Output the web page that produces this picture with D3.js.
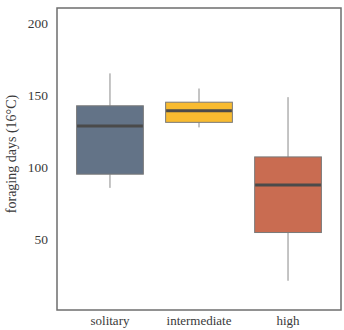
<!DOCTYPE html>
<html>
<head>
<meta charset="utf-8">
<script src="https://cdn.jsdelivr.net/npm/d3@7"></script>
<style>
  body { margin: 0; background: #fff; }
  svg text { font-family: "Liberation Serif", "DejaVu Serif", serif; fill: #3a3a3a; }
</style>
</head>
<body>
<script>
// groups and five-number summaries
const groups = ["solitary", "intermediate", "high"];
const whiskerLow = [85.5, 127.5, 21];
const boxLow = [95, 131, 54.5];
const medians = [128.5, 139, 87.5];
const boxHigh = [142.5, 145, 107];
const whiskerHigh = [165, 154.5, 148.5];
const colors = ["#637387", "#f8bb30", "#c96c51"];
const yTicks = [50, 100, 150, 200];

const width = 344, height = 330;
const margin = { top: 8, right: 3, bottom: 20, left: 57 };
const serif = '"Liberation Serif", serif';

const svg = d3.select("body").append("svg")
  .attr("width", width)
  .attr("height", height);

const x = d3.scaleBand()
  .domain(groups)
  .range([margin.left, width - margin.right])
  .paddingInner(0.25)
  .paddingOuter(0.22);

const y = d3.scaleLinear()
  .domain([0.7, 210.4])
  .range([height - margin.bottom, margin.top]);

// y tick labels
svg.append("g")
  .attr("transform", `translate(${margin.left},0)`)
  .call(d3.axisLeft(y).tickValues(yTicks).tickSize(0).tickPadding(9))
  .attr("font-family", serif)
  .attr("font-size", 13.5)
  .call(g => g.select(".domain").remove());

// x labels
svg.append("g")
  .attr("transform", `translate(0,${height - margin.bottom})`)
  .call(d3.axisBottom(x).tickSize(0).tickPadding(6))
  .attr("font-family", serif)
  .attr("font-size", 13)
  .call(g => g.select(".domain").remove());

svg.append("text")
  .attr("transform", `translate(16,154) rotate(-90)`)
  .attr("text-anchor", "middle")
  .attr("font-size", 14)
  .text("foraging days (16°C)");

const box = svg.append("g");
groups.forEach((gname, i) => {
  const cx = x(gname) + x.bandwidth() / 2;
  box.append("line")
    .attr("x1", cx).attr("x2", cx)
    .attr("y1", y(whiskerHigh[i])).attr("y2", y(boxHigh[i]))
    .attr("stroke", "#8a8a8a").attr("stroke-width", 1);
  box.append("line")
    .attr("x1", cx).attr("x2", cx)
    .attr("y1", y(boxLow[i])).attr("y2", y(whiskerLow[i]))
    .attr("stroke", "#8a8a8a").attr("stroke-width", 1);
  box.append("rect")
    .attr("x", x(gname))
    .attr("width", x.bandwidth())
    .attr("y", y(boxHigh[i]))
    .attr("height", y(boxLow[i]) - y(boxHigh[i]))
    .attr("fill", colors[i])
    .attr("stroke", "#7a7a7a")
    .attr("stroke-width", 1);
  box.append("line")
    .attr("x1", x(gname) + 0.5).attr("x2", x(gname) + x.bandwidth() - 0.5)
    .attr("y1", y(medians[i])).attr("y2", y(medians[i]))
    .attr("stroke", "#4a4a4a").attr("stroke-width", 3);
});

// panel border
svg.append("rect")
  .attr("x", margin.left)
  .attr("y", margin.top)
  .attr("width", width - margin.left - margin.right)
  .attr("height", height - margin.top - margin.bottom)
  .attr("fill", "none")
  .attr("stroke", "#6e6e6e")
  .attr("stroke-width", 1.5);
</script>
</body>
</html>
